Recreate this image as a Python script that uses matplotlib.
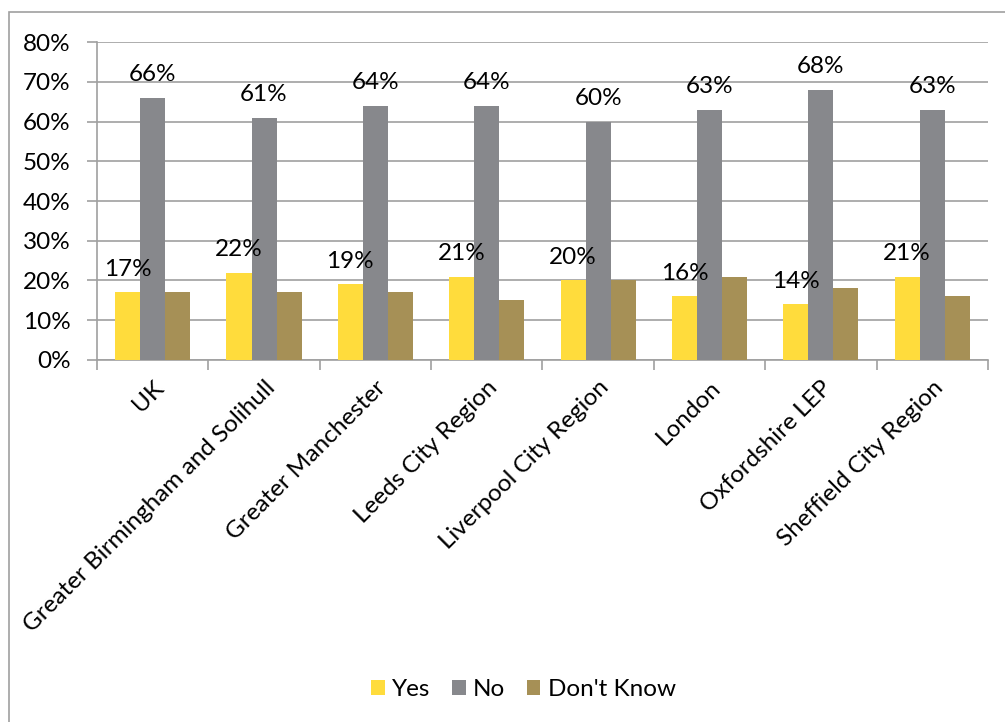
import matplotlib
matplotlib.use('Agg')
import matplotlib.pyplot as plt
import numpy as np
from matplotlib.patches import Rectangle

plt.rcParams['font.family'] = ['Lato', 'DejaVu Sans']

regions = ["UK", "Greater Birmingham and Solihull", "Greater Manchester",
           "Leeds City Region", "Liverpool City Region", "London",
           "Oxfordshire LEP", "Sheffield City Region"]
yes = [17, 22, 19, 21, 20, 16, 14, 21]
no = [66, 61, 64, 64, 60, 63, 68, 63]
dont_know = [17, 17, 17, 15, 20, 21, 18, 16]

fs = 17.5
fig = plt.figure(figsize=(10.05, 7.22), dpi=100)
ax = fig.add_axes([0.0965, 0.5014, 0.8865, 0.4404])

x = np.arange(len(regions))
w = 0.225
b1 = ax.bar(x - w, yes, w, color='#FFDC3C', label='Yes', zorder=3)
b2 = ax.bar(x, no, w, color='#87888C', label='No', zorder=3)
b3 = ax.bar(x + w, dont_know, w, color='#A69056', label="Don't Know", zorder=3)

# labels only on Yes and No
for bars, vals in [(b1, yes), (b2, no)]:
    for r, v in zip(bars, vals):
        ax.annotate(f"{v}%", (r.get_x() + r.get_width() / 2, v),
                    xytext=(0, 9), textcoords='offset points',
                    ha='center', va='bottom', fontsize=fs)

ax.set_xlim(-0.5, len(regions) - 0.5)
ax.set_ylim(0, 80)
ax.set_yticks(range(0, 81, 10))
ax.set_yticklabels([f"{t}%" for t in range(0, 81, 10)], fontsize=fs)
ax.yaxis.grid(True, color='#A0A0A0', lw=1.2, zorder=0)
ax.tick_params(axis='y', length=7, color='#A0A0A0', width=1.2, pad=12)

ax.set_xticks(np.arange(len(regions) + 1) - 0.5, minor=False)
ax.set_xticklabels([])
ax.tick_params(axis='x', which='major', length=7, color='#A0A0A0', width=1.2)
ax.set_xticks(x, minor=True)
ax.set_xticklabels(regions, minor=True, rotation=45, ha='right',
                   rotation_mode='anchor', fontsize=fs)
ax.tick_params(axis='x', which='minor', length=0, pad=12)

for s in ['top', 'right']:
    ax.spines[s].set_visible(False)
for s in ['left', 'bottom']:
    ax.spines[s].set_color('#A0A0A0')
    ax.spines[s].set_linewidth(1.2)

fig.legend(handles=[b1, b2, b3], loc='center', bbox_to_anchor=(0.521, 0.045),
           ncol=3, frameon=False, fontsize=fs, handlelength=0.55,
           handleheight=0.55, columnspacing=0.9, handletextpad=0.3)

fig.add_artist(Rectangle((9 / 1005, -0.05), 1.1, 1.05 - 12 / 722,
                         transform=fig.transFigure, fill=False,
                         edgecolor='#A0A0A0', lw=1.2))

fig.savefig('out.png', dpi=100)
